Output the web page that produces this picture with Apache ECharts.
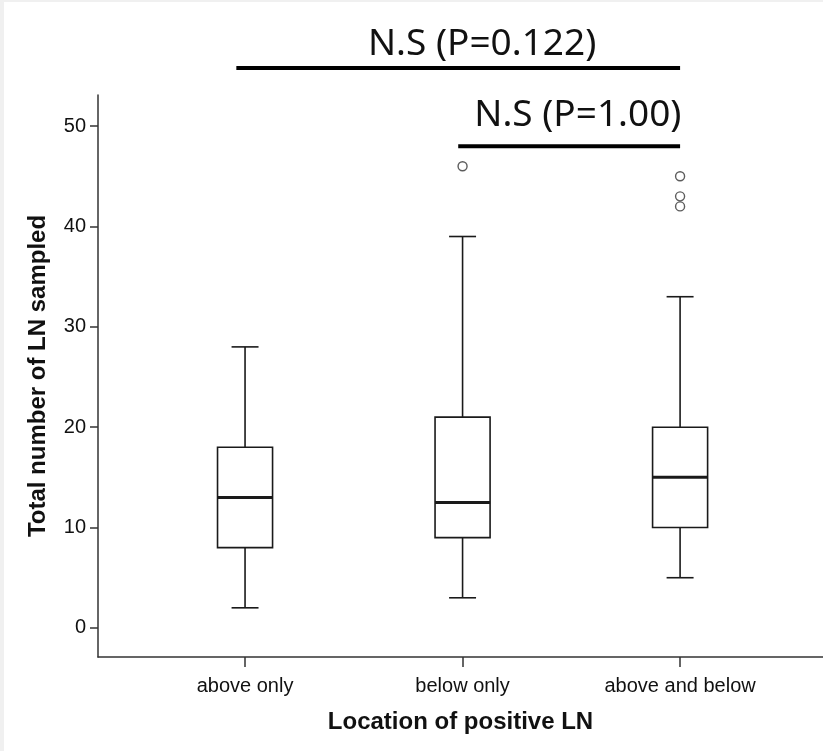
<!DOCTYPE html>
<html>
<head>
<meta charset="utf-8">
<script src="https://cdn.jsdelivr.net/npm/echarts@6/dist/echarts.min.js"></script>
<style>
  html, body { margin: 0; padding: 0; background: #f0f0f0; }
  #chart { position: absolute; left: 4px; top: 2px; width: 819px; height: 749px; background: #fff; }
</style>
</head>
<body>
<div id="chart"></div>
<script>
// categories and box statistics
const categories = ['above only', 'below only', 'above and below']
const whiskerLow = [2, 3, 5]
const q1 = [8, 9, 10]
const median = [13, 12.5, 15]
const q3 = [18, 21, 20]
const whiskerHigh = [28, 39, 33]

// outliers: [category position, value]
const outlierX = [2, 3, 3, 3]
const outlierY = [46, 42, 43, 45]

// y ticks
const yTicks = [0, 10, 20, 30, 40, 50]

// significance brackets
const bracketFrom = [0.96, 1.98]
const bracketTo = [3.0, 3.0]
const bracketY = [55.8, 48.0]
const bracketText = ['N.S (P=0.122)', 'N.S (P=1.00)']
const bracketTextX = [2.09, 2.53]
const bracketTextY = [58.1, 51.1]

const chart = echarts.init(document.getElementById('chart'))

const boxData = categories.map((c, i) => [i + 1, whiskerLow[i], q1[i], median[i], q3[i], whiskerHigh[i]])
const outlierData = outlierX.map((x, i) => [x, outlierY[i]])
const bracketData = bracketFrom.map((f, i) => [f, bracketTo[i], bracketY[i], bracketTextX[i], bracketTextY[i], i])

const ink = '#1a1a1a'

chart.setOption({
  animation: false,
  grid: { left: 94, right: 0, top: 93, bottom: 94 },
  xAxis: {
    type: 'value',
    min: 0.324,
    max: 3.657,
    splitLine: { show: false },
    axisLine: { onZero: false, lineStyle: { color: '#333', width: 1.5 } },
    axisTick: { customValues: [1, 2, 3], length: 10, lineStyle: { color: '#333', width: 1.5 } },
    axisLabel: {
      customValues: [1, 2, 3],
      formatter: v => categories[Math.round(v) - 1],
      color: '#111',
      fontFamily: 'Liberation Sans',
      fontSize: 20,
      margin: 19
    },
    name: 'Location of positive LN',
    nameLocation: 'middle',
    nameGap: 53,
    nameMoveOverlap: false,
    nameTextStyle: { fontFamily: 'Liberation Sans', fontWeight: 'bold', fontSize: 24, color: '#111' }
  },
  yAxis: {
    type: 'value',
    min: -2.9,
    max: 53.1,
    splitLine: { show: false },
    axisLine: { show: true, onZero: false, lineStyle: { color: '#333', width: 1.5 } },
    axisTick: { show: true, customValues: yTicks, length: 8, lineStyle: { color: '#333', width: 1.5 } },
    axisLabel: {
      customValues: yTicks,
      color: '#111',
      fontFamily: 'Liberation Sans',
      fontSize: 20,
      margin: 12
    },
    name: 'Total number of LN sampled',
    nameLocation: 'middle',
    nameRotate: 90,
    nameGap: 48,
    nameMoveOverlap: false,
    nameTextStyle: { fontFamily: 'Liberation Sans', fontWeight: 'bold', fontSize: 24, color: '#111' }
  },
  series: [
    {
      type: 'custom',
      data: boxData,
      renderItem: (params, api) => {
        const x = api.value(0)
        const lo = api.coord([x, api.value(1)])
        const b1 = api.coord([x, api.value(2)])
        const md = api.coord([x, api.value(3)])
        const b3 = api.coord([x, api.value(4)])
        const hi = api.coord([x, api.value(5)])
        const unit = api.size([1, 0])[0]
        const bw = unit * 0.253
        const cw = unit * 0.124
        const cx = lo[0]
        const line = (x1, y1, x2, y2, w) => ({
          type: 'line',
          shape: { x1, y1, x2, y2 },
          style: { stroke: ink, lineWidth: w || 1.6 }
        })
        return {
          type: 'group',
          children: [
            line(cx, lo[1], cx, b1[1]),
            line(cx, b3[1], cx, hi[1]),
            line(cx - cw / 2, lo[1], cx + cw / 2, lo[1]),
            line(cx - cw / 2, hi[1], cx + cw / 2, hi[1]),
            {
              type: 'rect',
              shape: { x: cx - bw / 2, y: b3[1], width: bw, height: b1[1] - b3[1] },
              style: { fill: '#fff', stroke: ink, lineWidth: 1.6 }
            },
            line(cx - bw / 2, md[1], cx + bw / 2, md[1], 3)
          ]
        }
      }
    },
    {
      type: 'scatter',
      data: outlierData,
      symbol: 'circle',
      symbolSize: 9,
      itemStyle: { color: '#fff', borderColor: '#333', borderWidth: 1.4 }
    },
    {
      type: 'custom',
      data: bracketData,
      clip: false,
      renderItem: (params, api) => {
        const a = api.coord([api.value(0), api.value(2)])
        const b = api.coord([api.value(1), api.value(2)])
        const t = api.coord([api.value(3), api.value(4)])
        return {
          type: 'group',
          children: [
            {
              type: 'line',
              shape: { x1: a[0], y1: a[1], x2: b[0], y2: b[1] },
              style: { stroke: '#000', lineWidth: 4 }
            },
            {
              type: 'text',
              x: t[0],
              y: t[1],
              style: {
                text: bracketText[api.value(5)],
                fill: '#111',
                font: '37px "Noto Sans"',
                align: 'center',
                verticalAlign: 'middle'
              }
            }
          ]
        }
      }
    }
  ]
})
</script>
</body>
</html>
